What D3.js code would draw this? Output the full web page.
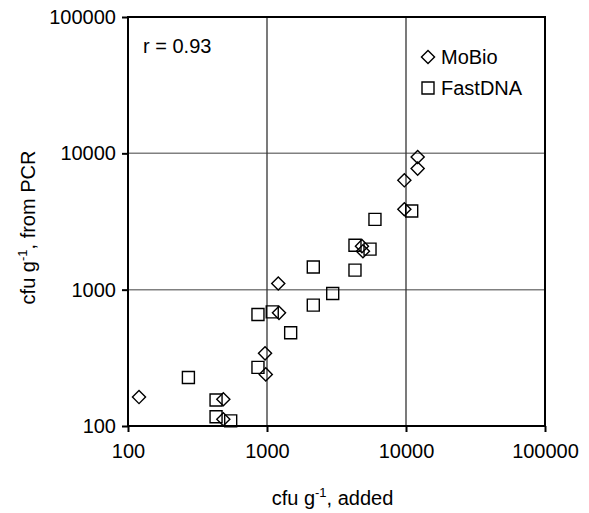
<!DOCTYPE html>
<html>
<head>
<meta charset="utf-8">
<script src="https://cdn.jsdelivr.net/npm/d3@7"></script>
<style>
  body { margin: 0; background: #fff; }
  svg { font-family: Arial, "Liberation Sans", sans-serif; }
</style>
</head>
<body>
<div id="chart"></div>
<script>
// MoBio kit: cfu added vs cfu from PCR
var mobioAdded = [120, 485, 485, 968, 980, 1205, 1220, 4820, 4900, 9730, 9730, 12130, 12130];
var mobioPCR   = [163, 157, 112, 341, 239, 1109, 676, 2085, 1914, 6340, 3890, 9400, 7730];

// FastDNA kit
var fastAdded = [272, 430, 430, 548, 861, 861, 1091, 1480, 2153, 2970, 2153, 4295, 4295, 5510, 5980, 10990];
var fastPCR   = [227, 155, 117, 109, 658, 269, 687, 483, 770, 938, 1468, 1390, 2118, 1983, 3280, 3780];

var tickValues = [100, 1000, 10000, 100000];
var corrLabel = 'r = 0.93';
var seriesNames = ['MoBio', 'FastDNA'];

var width = 589, height = 513;
var margin = { top: 17, right: 44, bottom: 87, left: 128 };
var plotW = width - margin.left - margin.right;
var plotH = height - margin.top - margin.bottom;

var svg = d3.select('#chart').append('svg')
    .attr('width', width)
    .attr('height', height);

var g = svg.append('g')
    .attr('transform', 'translate(' + margin.left + ',' + margin.top + ')');

var x = d3.scaleLog().domain([100, 100000]).range([0, plotW]);
var y = d3.scaleLog().domain([100, 100000]).range([plotH, 0]);

// grid lines (vertical ones are darker in the original)
g.selectAll('.hgrid')
    .data(tickValues.slice(1, 3))
    .enter().append('line')
    .attr('y1', function(d) { return y(d); })
    .attr('y2', function(d) { return y(d); })
    .attr('x1', 0).attr('x2', plotW)
    .attr('stroke', '#808080').attr('stroke-width', 1.5);

g.selectAll('.vgrid')
    .data(tickValues.slice(1, 3))
    .enter().append('line')
    .attr('x1', function(d) { return x(d); })
    .attr('x2', function(d) { return x(d); })
    .attr('y1', 0).attr('y2', plotH)
    .attr('stroke', '#333').attr('stroke-width', 1.3);

// frame
g.append('rect')
    .attr('width', plotW).attr('height', plotH)
    .attr('fill', 'none').attr('stroke', '#000').attr('stroke-width', 2);

// axes
var xAxis = g.append('g')
    .attr('transform', 'translate(0,' + plotH + ')')
    .call(d3.axisBottom(x).tickValues(tickValues).tickFormat(d3.format('d'))
        .tickSizeInner(6).tickSizeOuter(0).tickPadding(12));
var yAxis = g.append('g')
    .call(d3.axisLeft(y).tickValues(tickValues).tickFormat(d3.format('d'))
        .tickSizeInner(6).tickSizeOuter(0).tickPadding(6));

[xAxis, yAxis].forEach(function(a) {
    a.select('.domain').remove();
    a.selectAll('line').attr('stroke', '#000').attr('stroke-width', 2);
    a.selectAll('text')
        .attr('font-size', '20px')
        .attr('font-family', 'Arial, "Liberation Sans", sans-serif')
        .attr('fill', '#000');
});

// axis titles
var xt = svg.append('text')
    .attr('x', margin.left + plotW / 2 - 4)
    .attr('y', 505)
    .attr('text-anchor', 'middle')
    .attr('font-size', '20px');
xt.append('tspan').text('cfu g');
xt.append('tspan').attr('dy', -8).attr('font-size', '13px').text('-1');
xt.append('tspan').attr('dy', 8).text(', added');

var yt = svg.append('text')
    .attr('transform', 'translate(35,' + (margin.top + plotH / 2 + 6) + ') rotate(-90)')
    .attr('text-anchor', 'middle')
    .attr('font-size', '20px');
yt.append('tspan').text('cfu g');
yt.append('tspan').attr('dy', -8).attr('font-size', '13px').text('-1');
yt.append('tspan').attr('dy', 8).text(', from PCR');

// markers
var diamond = d3.symbol().type(d3.symbolSquare).size(86);
var square = d3.symbol().type(d3.symbolSquare).size(144);

var fastData = fastAdded.map(function(v, i) { return [v, fastPCR[i]]; });
var mobioData = mobioAdded.map(function(v, i) { return [v, mobioPCR[i]]; });

g.selectAll('.fast')
    .data(fastData)
    .enter().append('path')
    .attr('d', square)
    .attr('transform', function(d) { return 'translate(' + x(d[0]) + ',' + y(d[1]) + ')'; })
    .attr('fill', 'none').attr('stroke', '#000').attr('stroke-width', 1.4);

g.selectAll('.mobio')
    .data(mobioData)
    .enter().append('path')
    .attr('d', diamond)
    .attr('transform', function(d) { return 'translate(' + x(d[0]) + ',' + y(d[1]) + ') rotate(45)'; })
    .attr('fill', 'none').attr('stroke', '#000').attr('stroke-width', 1.4);

// correlation label
g.append('text')
    .attr('x', 15).attr('y', 36)
    .attr('font-size', '20px')
    .text(corrLabel);

// legend
var legend = g.append('g').attr('transform', 'translate(' + (plotW - 117) + ',40)');
legend.append('path')
    .attr('d', diamond)
    .attr('transform', 'rotate(45)')
    .attr('fill', 'none').attr('stroke', '#000').attr('stroke-width', 1.4);
legend.append('text').attr('x', 13).attr('y', 7).attr('font-size', '20px').text(seriesNames[0]);
legend.append('path')
    .attr('d', square)
    .attr('transform', 'translate(0,31)')
    .attr('fill', 'none').attr('stroke', '#000').attr('stroke-width', 1.4);
legend.append('text').attr('x', 13).attr('y', 38).attr('font-size', '20px').text(seriesNames[1]);
</script>
</body>
</html>
